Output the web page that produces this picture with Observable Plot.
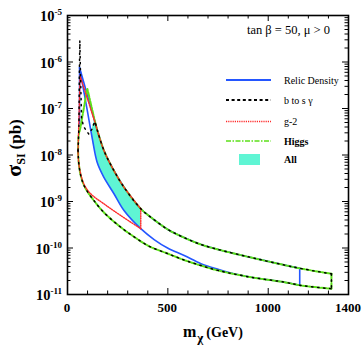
<!DOCTYPE html>
<html><head><meta charset="utf-8">
<script src="https://cdn.jsdelivr.net/npm/d3@7"></script>
<script src="https://cdn.jsdelivr.net/npm/@observablehq/plot@0.6"></script>
<style>body{margin:0;background:#fff}#chart{width:363px;height:346px}</style>
</head><body><div id="chart"></div><script>
// ---- data (m_chi in GeV, sigma_SI in pb) ----
const upperM = [140, 181.5, 231.5, 281.5, 365, 430, 500, 580, 665, 750, 915, 1080, 1165, 1315];
const upperS = [4.57e-8, 1.25e-8, 4.6e-9, 2.03e-9, 7.0e-10, 4.1e-10, 2.5e-10, 1.68e-10, 1.19e-10, 9.3e-11, 6.25e-11, 4.3e-11, 3.6e-11, 2.79e-11];
const lowerM = [52.5, 57.5, 70, 90, 131.5, 181.5, 248.5, 315, 405, 498.5, 581.5, 665, 748.5, 915, 1081.5, 1165, 1315];
const lowerS = [1.25e-8, 5.9e-9, 3.1e-9, 1.9e-9, 1.05e-9, 5.8e-10, 3.2e-10, 1.95e-10, 1.1e-10, 7.6e-11, 5.5e-11, 4.2e-11, 3.3e-11, 2.35e-11, 1.84e-11, 1.56e-11, 1.33e-11];

const higgsHeadM = [52.5, 55, 65, 98.5];
const higgsHeadS = [1.25e-8, 2.6e-8, 4.0e-8, 2.7e-7];

const bsgHeadM = [52.5, 57, 59, 61.5, 65, 70, 81.5, 106.5, 123.5, 135];
const bsgHeadS = [1.25e-8, 4e-8, 5e-7, 2.9e-6, 5e-7, 6e-8, 4e-8, 2.8e-8, 3.7e-8, 5.3e-8];

const gm2HeadM = [52.5, 57, 62.5];
const gm2HeadS = [1.25e-8, 6e-8, 5.1e-7];
const gm2LowerM = [365, 265, 181.5, 115, 81.5, 57.5, 52.5];
const gm2LowerS = [2.6e-10, 5.0e-10, 8.9e-10, 1.47e-9, 2.4e-9, 5.9e-9, 1.25e-8];

const relicHeadM = [60, 60];
const relicHeadS = [4.75e-8, 7.6e-7];
const relicEdgeM = [1157, 1157];
const relicEdgeS = [3.65e-11, 1.58e-11];
const relicInnerM = [830, 750, 665, 581.5, 498.5, 431.5, 365, 281.5, 231.5, 181.5, 148.5, 124, 98.5, 60];
const relicInnerS = [2.8e-11, 3.5e-11, 4.6e-11, 6.9e-11, 1.0e-10, 1.52e-10, 2.6e-10, 6.4e-10, 1.47e-9, 3.3e-9, 6.8e-9, 2.2e-8, 9.1e-8, 7.6e-7];

const allM  = [124, 135, 140, 148.5, 181.5, 231.5, 281.5, 365];
const allLo = [2.2e-8, 1.3e-8, 1.13e-8, 6.8e-9, 3.3e-9, 1.47e-9, 6.4e-10, 2.6e-10];
const allHi = [3.7e-8, 5.3e-8, 4.57e-8, 3.47e-8, 1.25e-8, 4.6e-9, 2.03e-9, 7.0e-10];

const xMajor = [0, 500, 1000];
const xMinor = [100, 200, 300, 400, 600, 700, 800, 900, 1100, 1200, 1300];
const xTickLabels = [0, 500, 1000, 1400];
const yExps = [-11, -10, -9, -8, -7, -6, -5];
const legendNames = ["Relic Density", "b to s \u03b3", "g-2", "Higgs", "All"];
const annotation = "tan \u03b2 = 50, \u03bc > 0";

// ---- build rows ----
const rows = (M, S) => M.map((m, i) => ({m, s: S[i]}));
const upper = rows(upperM, upperS);
const lower = rows(lowerM, lowerS);
const lowerRev = lower.slice().reverse();
const uFirst = upper[0], uLast = upper[upper.length - 1], lLast = lower[lower.length - 1];
const seg = (k, arr) => arr.map(d => ({...d, k}));

const contours = {
  higgs: {
    straight: [...seg("h", [...rows(higgsHeadM, higgsHeadS), uFirst]), ...seg("e", [uLast, lLast])],
    smooth: [...seg("u", upper), ...seg("l", lower)]
  },
  bsg: {
    straight: [...seg("h", [...rows(bsgHeadM, bsgHeadS), uFirst]), ...seg("e", [uLast, lLast])],
    smooth: [...seg("u", upper), ...seg("l", lower)]
  },
  gm2: {
    straight: [...seg("h", [...rows(gm2HeadM, gm2HeadS), uFirst]),
               ...seg("e", [rows(gm2LowerM, gm2LowerS)[0], upper.find(d => d.m === 365)])],
    smooth: [...seg("u", upper.filter(d => d.m <= 365)), ...seg("l", rows(gm2LowerM, gm2LowerS))]
  },
  relic: {
    straight: [...seg("h", [...rows(relicHeadM, relicHeadS), uFirst]), ...seg("e", rows(relicEdgeM, relicEdgeS))],
    smooth: [...seg("u", [...upper.filter(d => d.m < 1157), rows(relicEdgeM, relicEdgeS)[0]]),
             ...seg("l", [rows(relicEdgeM, relicEdgeS)[1], ...lowerRev.filter(d => d.m < 1157 && d.m > 830),
                          ...rows(relicInnerM, relicInnerS)])]
  }
};
const all = allM.map((m, i) => ({m, lo: allLo[i], hi: allHi[i]}));

const yMinor = [];
for (let e = -11; e < -5; e++) for (let k = 2; k <= 9; k++) yMinor.push(k * Math.pow(10, e));
const yMajor = yExps.map(e => Math.pow(10, e));

const C = {relic: "#2456ff", bsg: "#000000", gm2: "#ff2a2a", higgs: "#5ce01a", all: "#5ff5d4"};
const S = {
  relic: {stroke: C.relic, strokeWidth: 1.6},
  higgs: {stroke: C.higgs, strokeWidth: 2, strokeDasharray: "5,1.5,1.5,1.5"},
  gm2: {stroke: C.gm2, strokeWidth: 1.4, strokeDasharray: "1.1,1.3"},
  bsg: {stroke: C.bsg, strokeWidth: 1.5, strokeDasharray: "1.4,4.6"}
};
const contourMarks = name => [
  Plot.line(contours[name].straight, {x: "m", y: "s", z: "k", ...S[name]}),
  Plot.line(contours[name].smooth, {x: "m", y: "s", z: "k", curve: "catmull-rom", ...S[name]})
];

const mt = 15, mb = 52, ml = 67, mr = 15, Wd = 363, Ht = 346;
const fH = Ht - mt - mb, fW = Wd - ml - mr;

const chart = Plot.plot({
  width: Wd, height: Ht,
  marginLeft: ml, marginRight: mr, marginTop: mt, marginBottom: mb,
  x: {domain: [0, 1400], axis: null},
  y: {type: "log", domain: [1e-11, 1e-5], axis: null},
  style: {background: "white"},
  marks: [
    Plot.areaY(all, {x: "m", y1: "lo", y2: "hi", fill: C.all, curve: "catmull-rom"}),
    ...contourMarks("relic"),
    ...contourMarks("higgs"),
    ...contourMarks("gm2"),
    ...contourMarks("bsg"),
    Plot.tickX(xMajor, {x: d => d, insetTop: fH - 6, stroke: "black"}),
    Plot.tickX(xMajor, {x: d => d, insetBottom: fH - 6, stroke: "black"}),
    Plot.tickX(xMinor, {x: d => d, insetTop: fH - 3.5, stroke: "black"}),
    Plot.tickX(xMinor, {x: d => d, insetBottom: fH - 3.5, stroke: "black"}),
    Plot.tickY(yMajor, {y: d => d, insetRight: fW - 6, stroke: "black"}),
    Plot.tickY(yMajor, {y: d => d, insetLeft: fW - 6, stroke: "black"}),
    Plot.tickY(yMinor, {y: d => d, insetRight: fW - 3.5, stroke: "black"}),
    Plot.tickY(yMinor, {y: d => d, insetLeft: fW - 3.5, stroke: "black"}),
    Plot.frame({stroke: "black", strokeWidth: 1.6})
  ]
});
document.getElementById("chart").appendChild(chart);

// ---- texts using the plot's own scales ----
const svg = d3.select(chart);
const xs = chart.scale("x"), ys = chart.scale("y");
const X = v => xs.apply(v), Y = v => ys.apply(v);
const font = "'Liberation Serif','Times New Roman',serif";
const g = svg.append("g").attr("font-family", font).attr("text-anchor", "start").attr("fill", "black");

xTickLabels.forEach(v => g.append("text").attr("x", X(v)).attr("y", Ht - mb + 18)
  .attr("text-anchor", "middle").attr("font-weight", "bold").attr("font-size", 13).text(v));

yExps.forEach(e => {
  const t = g.append("text").attr("x", ml - 5).attr("y", Y(Math.pow(10, e)) + 6)
    .attr("text-anchor", "end").attr("font-weight", "bold");
  t.append("tspan").attr("font-size", 14.5).text("10");
  t.append("tspan").attr("font-size", 9).attr("dy", -6).text(String(e));
});

// x title
const xt = g.append("text").attr("x", 183).attr("y", 337).attr("text-anchor", "start").attr("font-weight", "bold");
xt.append("tspan").attr("font-size", 16).text("m");
xt.append("tspan").attr("font-size", 13).attr("dy", 5).attr("dx", 1).text("\u03c7");
xt.append("tspan").attr("font-size", 14).attr("dy", -5).attr("dx", 3).text("(GeV)");

// y title
const yt = g.append("text").attr("transform", "translate(21,148) rotate(-90)")
  .attr("text-anchor", "middle").attr("font-weight", "bold");
yt.append("tspan").attr("font-size", 22).text("\u03c3");
yt.append("tspan").attr("font-size", 12).attr("dy", 4).text("SI");
yt.append("tspan").attr("font-size", 17).attr("dy", -4).attr("dx", 4).text("(pb)");

// annotation
g.append("text").attr("x", Wd - mr - 18).attr("y", 34).attr("text-anchor", "end")
  .attr("font-size", 12.5).text(annotation);

// legend
const legY = [80, 100, 121.5, 141, 159.5];
const styles = [
  {stroke: C.relic, dash: null, w: 1.8},
  {stroke: C.bsg, dash: "3,2.6", w: 1.8},
  {stroke: C.gm2, dash: "1.2,1", w: 1.5},
  {stroke: C.higgs, dash: "5,1.5,1.5,1.5", w: 1.7}
];
legendNames.forEach((name, i) => {
  if (i < 4) {
    const s = styles[i];
    const l = g.append("line").attr("x1", 226).attr("x2", 271).attr("y1", legY[i]).attr("y2", legY[i])
      .attr("stroke", s.stroke).attr("stroke-width", s.w);
    if (s.dash) l.attr("stroke-dasharray", s.dash);
  } else {
    g.append("rect").attr("x", 239).attr("y", legY[i] - 5.5).attr("width", 21).attr("height", 11).attr("fill", C.all);
  }
  g.append("text").attr("x", 284).attr("y", legY[i] + 3.5).attr("text-anchor", "start").attr("font-size", 10)
    .attr("font-weight", i >= 3 ? "bold" : "normal").text(name);
});
</script></body></html>
